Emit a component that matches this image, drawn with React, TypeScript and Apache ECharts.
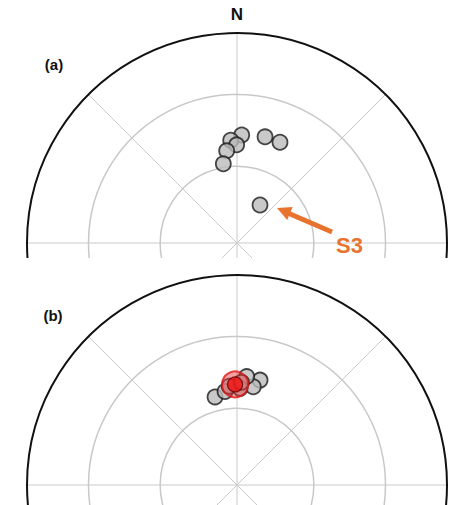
import React, { useEffect, useRef } from "react";
import * as echarts from "echarts";

// ---- data (trend / plunge in degrees) ----
const trendA = [2.5, 356.5, 359.8, 353.6, 350.2, 14.8, 23.1, 31.2];
const plungeA = [47.3, 49.4, 51.4, 53.6, 58.6, 46.6, 46.7, 72.8];

const trendB = [346, 352.7, 12.4, 9.4, 5.1, 1.8, 355.5, 2.5];
const plungeB = [54.4, 53.0, 47.6, 50.8, 47.0, 52.0, 51.0, 49.5];
const meanTrendB = [358.9];
const meanPlungeB = [50.4];

const gridPlunges = [30, 60];
const northLabel = "N";
const panelLabels = ["(a)", "(b)"];
const s3Label = "S3";

// ---- layout ----
const W = 459;
const CX = 237;
const R = 210;
const HEIGHT_A = 258;
const HEIGHT_B = 247;
const CY_A = 243;
const CY_B = 227;
const FONT = "'Liberation Sans', Arial, sans-serif";
const ORANGE = "#e8732f";

// equal-area (Schmidt) projection: plunge -> normalised radius
const proj = (p: number) => Math.SQRT2 * Math.sin((((90 - p) / 2) * Math.PI) / 180);

function baseAxes(cy: number) {
  const radii = [1, ...gridPlunges.map(proj)];
  return {
    polar: radii.map((f) => ({ center: [CX, cy], radius: R * f })),
    angleAxis: radii.map((f, i) => ({
      polarIndex: i,
      type: "value",
      min: 0,
      max: 360,
      interval: 45,
      startAngle: 90,
      clockwise: true,
      axisLine: {
        show: true,
        lineStyle: i === 0 ? { color: "#111", width: 2 } : { color: "#c8c8c8", width: 1.5 },
      },
      axisTick: { show: false },
      axisLabel: { show: false },
      splitLine: { show: i === 0, lineStyle: { color: "#cacaca", width: 1 } },
      splitArea: { show: false },
    })),
    radiusAxis: radii.map((f, i) => ({
      polarIndex: i,
      type: "value",
      min: 0,
      max: 1,
      axisLine: { show: false },
      axisTick: { show: false },
      axisLabel: { show: false },
      splitLine: { show: false },
    })),
  };
}

const grayStyle = { color: "#bcbcbc", borderColor: "#1a1a1a", borderWidth: 1.8 };

function optionA(): any {
  return {
    animation: false,
    backgroundColor: "#fff",
    ...baseAxes(CY_A),
    series: [
      {
        type: "scatter",
        coordinateSystem: "polar",
        polarIndex: 0,
        symbol: "circle",
        symbolSize: 15,
        itemStyle: grayStyle,
        data: trendA.map((t, i) => [proj(plungeA[i]), t]),
      },
    ],
    graphic: [
      {
        type: "text",
        x: CX,
        y: 14,
        style: { text: northLabel, font: `bold 17px ${FONT}`, fill: "#111", align: "center", verticalAlign: "middle" },
      },
      {
        type: "text",
        x: 54,
        y: 64,
        style: { text: panelLabels[0], font: `bold 15px ${FONT}`, fill: "#111", align: "center", verticalAlign: "middle" },
      },
      {
        type: "line",
        shape: { x1: 332, y1: 232, x2: 289, y2: 213.5 },
        style: { stroke: ORANGE, lineWidth: 5 },
        z: 10,
      },
      {
        type: "polygon",
        shape: { points: [[277, 208], [292.6, 207.1], [287.2, 219.9]] },
        style: { fill: ORANGE },
        z: 10,
      },
      {
        type: "text",
        x: 336,
        y: 256,
        style: { text: s3Label, font: `bold 22px ${FONT}`, fill: ORANGE, align: "left", verticalAlign: "bottom" },
        z: 10,
      },
    ],
  };
}

function optionB(): any {
  return {
    animation: false,
    backgroundColor: "#fff",
    ...baseAxes(CY_B),
    series: [
      {
        type: "scatter",
        coordinateSystem: "polar",
        polarIndex: 0,
        symbol: "circle",
        symbolSize: 15,
        itemStyle: grayStyle,
        data: trendB.map((t, i) => [proj(plungeB[i]), t]),
        z: 2,
      },
      {
        type: "scatter",
        coordinateSystem: "polar",
        polarIndex: 0,
        symbol: "circle",
        symbolSize: 26,
        itemStyle: { color: "rgba(238,60,60,0.6)", borderColor: "#e01818", borderWidth: 2 },
        data: meanTrendB.map((t, i) => [proj(meanPlungeB[i]), t]),
        z: 3,
      },
      {
        type: "scatter",
        coordinateSystem: "polar",
        polarIndex: 0,
        symbol: "circle",
        symbolSize: 15,
        itemStyle: { color: "#f01010", borderColor: "#5a0000", borderWidth: 1.2 },
        data: meanTrendB.map((t, i) => [proj(meanPlungeB[i]), t]),
        z: 4,
      },
    ],
    graphic: [
      {
        type: "text",
        x: 53,
        y: 315 - HEIGHT_A,
        style: { text: panelLabels[1], font: `bold 15px ${FONT}`, fill: "#111", align: "center", verticalAlign: "middle" },
      },
    ],
  };
}

function Chart({ top, height, build }: { top: number; height: number; build: () => any }) {
  const ref = useRef<HTMLDivElement>(null);
  useEffect(() => {
    if (!ref.current) return;
    const chart = echarts.init(ref.current, undefined, { renderer: "svg" });
    chart.setOption(build());
    return () => chart.dispose();
  }, [build]);
  return (
    <div
      ref={ref}
      style={{ position: "absolute", left: 0, top, width: W, height, overflow: "hidden", background: "#fff" }}
    />
  );
}

export default function App() {
  return (
    <div style={{ position: "fixed", left: 0, top: 0, width: W, height: 505, background: "#fff" }}>
      <Chart top={0} height={HEIGHT_A} build={optionA} />
      <Chart top={HEIGHT_A} height={HEIGHT_B} build={optionB} />
    </div>
  );
}
